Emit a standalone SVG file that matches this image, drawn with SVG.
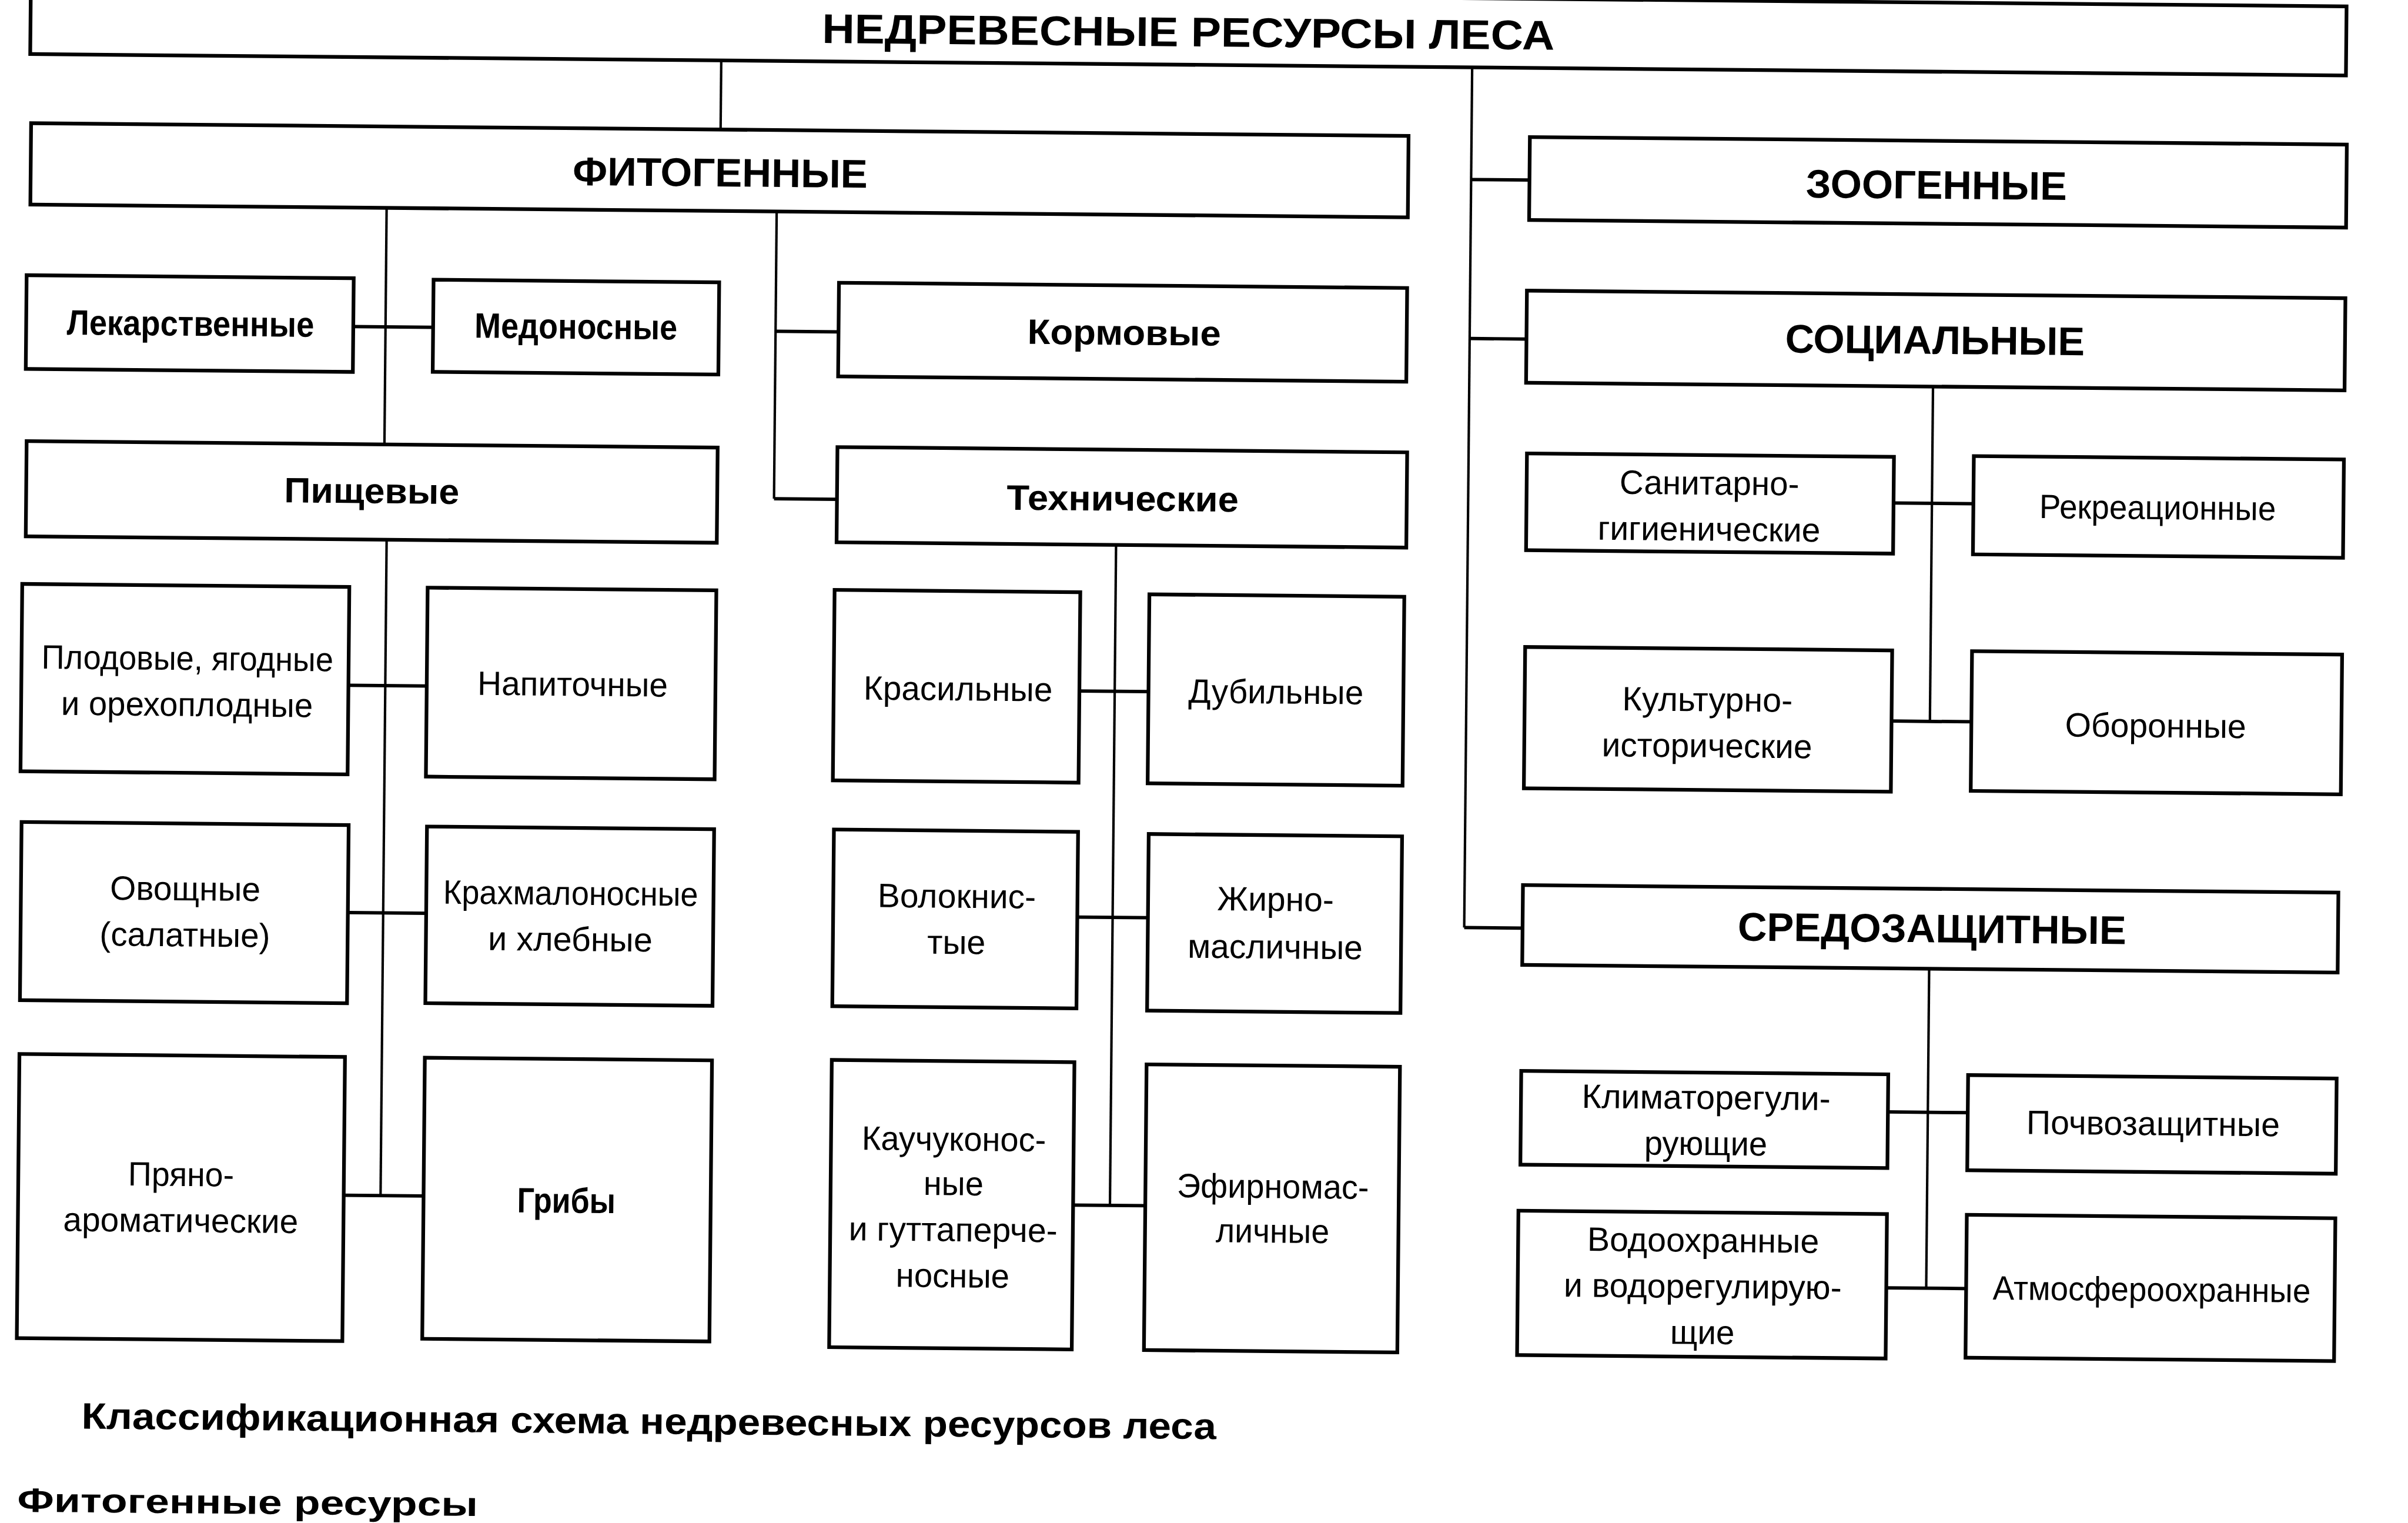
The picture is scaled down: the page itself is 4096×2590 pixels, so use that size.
<svg xmlns="http://www.w3.org/2000/svg" width="4096" height="2590" viewBox="0 0 4096 2590">
<style>
.box{fill:#fff;stroke:#000;stroke-width:2.4}
.c{fill:none;stroke:#000;stroke-width:2.2}
.v{fill:none;stroke:#000;stroke-width:1.6}
text{font-family:"Liberation Sans",Arial,sans-serif;fill:#000;text-anchor:middle}
.r{font-size:22px}
.b{font-size:23px;font-weight:bold}
.h{font-size:26px;font-weight:bold}
.cap{font-size:24px;font-weight:bold;text-anchor:start}
</style>
<rect width="4096" height="2590" fill="#fff"/>
<g transform="scale(2.6122) rotate(0.53)">
<g id="connectors">
<path class="v" d="M470,35V80"/>
<path class="v" d="M959,35V595"/>
<path class="c" d="M959,595H997"/>
<path class="c" d="M959,108H997"/>
<path class="c" d="M959,211.5H996"/>
<path class="v" d="M253,133V287"/>
<path class="c" d="M232,210.5H284"/>
<path class="v" d="M507,133V320"/>
<path class="c" d="M507,320H548"/>
<path class="c" d="M507,211H548"/>
<path class="v" d="M255,349V776"/>
<path class="c" d="M231,444H282"/>
<path class="c" d="M232,592H283"/>
<path class="c" d="M231,776H283"/>
<path class="v" d="M730,348V778"/>
<path class="c" d="M707,443.3H752"/>
<path class="c" d="M707,590.5H753"/>
<path class="c" d="M706,778H753"/>
<path class="v" d="M1261,240V458"/>
<path class="c" d="M1236,316H1288"/>
<path class="c" d="M1236,458H1288"/>
<path class="v" d="M1262,619V827"/>
<path class="c" d="M1236,712.5H1288"/>
<path class="c" d="M1236,827H1288"/>
</g>
<g id="title"><rect class="box" x="20" y="-10" width="1508" height="45"/><text class="h" style="font-size:27px" x="774" y="23" textLength="477" lengthAdjust="spacingAndGlyphs">НЕДРЕВЕСНЫЕ РЕСУРСЫ ЛЕСА</text></g>
<g id="fitogennye"><rect class="box" x="21" y="80" width="897" height="53"/><text class="h" x="470" y="117" textLength="192" lengthAdjust="spacingAndGlyphs">ФИТОГЕННЫЕ</text></g>
<g id="zoogennye"><rect class="box" x="997" y="80" width="532" height="54"/><text class="h" x="1262" y="117.7" textLength="170" lengthAdjust="spacingAndGlyphs">ЗООГЕННЫЕ</text></g>
<g id="socialnye"><rect class="box" x="996" y="180" width="533" height="60"/><text class="h" x="1262" y="218.7" textLength="195" lengthAdjust="spacingAndGlyphs">СОЦИАЛЬНЫЕ</text></g>
<g id="sredozashchitnye"><rect class="box" x="997" y="567" width="531" height="52"/><text class="h" x="1263.6" y="601.8" textLength="253" lengthAdjust="spacingAndGlyphs">СРЕДОЗАЩИТНЫЕ</text></g>
<g id="lekarstvennye"><rect class="box" x="19" y="179" width="213" height="61"/><text class="b" x="126" y="217.4" textLength="161" lengthAdjust="spacingAndGlyphs">Лекарственные</text></g>
<g id="medonosnye"><rect class="box" x="284" y="179.5" width="186" height="60"/><text class="b" x="377" y="217" textLength="132" lengthAdjust="spacingAndGlyphs">Медоносные</text></g>
<g id="kormovye"><rect class="box" x="548" y="179" width="370" height="61"/><text class="b" x="734" y="217.7" textLength="126" lengthAdjust="spacingAndGlyphs">Кормовые</text></g>
<g id="pishchevye"><rect class="box" x="20" y="287" width="450" height="62"/><text class="b" x="245" y="325.3" textLength="114" lengthAdjust="spacingAndGlyphs">Пищевые</text></g>
<g id="tekhnicheskie"><rect class="box" x="548" y="286" width="371" height="62"/><text class="b" x="734" y="325.7" textLength="151" lengthAdjust="spacingAndGlyphs">Технические</text></g>
<g id="plodovye"><rect class="box" x="18" y="380" width="213" height="122"/><text class="r" x="126" y="435" textLength="190" lengthAdjust="spacingAndGlyphs">Плодовые, ягодные</text><text class="r" x="126" y="465" textLength="164" lengthAdjust="spacingAndGlyphs">и орехоплодные</text></g>
<g id="napitochnye"><rect class="box" x="282" y="380" width="188" height="123"/><text class="r" x="377" y="449.5" textLength="124" lengthAdjust="spacingAndGlyphs">Напиточные</text></g>
<g id="ovoshchnye"><rect class="box" x="19" y="535" width="213" height="116"/><text class="r" x="126" y="585" textLength="98" lengthAdjust="spacingAndGlyphs">Овощные</text><text class="r" x="126" y="615" textLength="111" lengthAdjust="spacingAndGlyphs">(салатные)</text></g>
<g id="krakhmalonosnye"><rect class="box" x="283" y="535.5" width="187" height="115"/><text class="r" x="377" y="585.6" textLength="166" lengthAdjust="spacingAndGlyphs">Крахмалоносные</text><text class="r" x="377" y="615.6" textLength="107" lengthAdjust="spacingAndGlyphs">и хлебные</text></g>
<g id="pryano"><rect class="box" x="19" y="686" width="212" height="185"/><text class="r" x="125" y="771" textLength="69" lengthAdjust="spacingAndGlyphs">Пряно-</text><text class="r" x="125" y="801" textLength="153" lengthAdjust="spacingAndGlyphs">ароматические</text></g>
<g id="griby"><rect class="box" x="283" y="686" width="187" height="183"/><text class="b" x="376" y="786.1" textLength="64" lengthAdjust="spacingAndGlyphs">Грибы</text></g>
<g id="krasilnye"><rect class="box" x="547" y="379" width="160" height="124"/><text class="r" x="628" y="450.2" textLength="123" lengthAdjust="spacingAndGlyphs">Красильные</text></g>
<g id="dubilnye"><rect class="box" x="752" y="380" width="166" height="123"/><text class="r" x="835" y="450.3" textLength="114" lengthAdjust="spacingAndGlyphs">Дубильные</text></g>
<g id="voloknistye"><rect class="box" x="548" y="535" width="159" height="115"/><text class="r" x="628.4" y="585.2" textLength="103" lengthAdjust="spacingAndGlyphs">Волокнис-</text><text class="r" x="628.4" y="615.2" textLength="38" lengthAdjust="spacingAndGlyphs">тые</text></g>
<g id="zhirnomaslichnye"><rect class="box" x="753" y="536" width="165" height="115"/><text class="r" x="836" y="585.3" textLength="76" lengthAdjust="spacingAndGlyphs">Жирно-</text><text class="r" x="836" y="616.3" textLength="114" lengthAdjust="spacingAndGlyphs">масличные</text></g>
<g id="kauchukonosnye"><rect class="box" x="548" y="685" width="158" height="187"/><text class="r" x="628" y="743.3" textLength="120" lengthAdjust="spacingAndGlyphs">Каучуконос-</text><text class="r" x="628" y="772.3" textLength="39" lengthAdjust="spacingAndGlyphs">ные</text><text class="r" x="628" y="802.3" textLength="136" lengthAdjust="spacingAndGlyphs">и гуттаперче-</text><text class="r" x="628" y="832.3" textLength="74" lengthAdjust="spacingAndGlyphs">носные</text></g>
<g id="efirnomaslichnye"><rect class="box" x="753" y="686" width="165" height="186"/><text class="r" x="836" y="772.3" textLength="125" lengthAdjust="spacingAndGlyphs">Эфирномас-</text><text class="r" x="836" y="801.3" textLength="74" lengthAdjust="spacingAndGlyphs">личные</text></g>
<g id="sanitarno"><rect class="box" x="997" y="286" width="239" height="63"/><text class="r" x="1116" y="311.7" textLength="117" lengthAdjust="spacingAndGlyphs">Санитарно-</text><text class="r" x="1116" y="341.7" textLength="145" lengthAdjust="spacingAndGlyphs">гигиенические</text></g>
<g id="rekreacionnye"><rect class="box" x="1288" y="285" width="241" height="64"/><text class="r" x="1408" y="325" textLength="154" lengthAdjust="spacingAndGlyphs">Рекреационные</text></g>
<g id="kulturno"><rect class="box" x="997" y="412" width="239" height="92"/><text class="r" x="1116" y="452.7" textLength="111" lengthAdjust="spacingAndGlyphs">Культурно-</text><text class="r" x="1116" y="482.7" textLength="137" lengthAdjust="spacingAndGlyphs">исторические</text></g>
<g id="oboronnye"><rect class="box" x="1288" y="412" width="241" height="91"/><text class="r" x="1408" y="467" textLength="118" lengthAdjust="spacingAndGlyphs">Оборонные</text></g>
<g id="klimatoreguliruyushchie"><rect class="box" x="997" y="688" width="239" height="61"/><text class="r" x="1117.6" y="711.7" textLength="162" lengthAdjust="spacingAndGlyphs">Климаторегули-</text><text class="r" x="1117.6" y="741.7" textLength="80" lengthAdjust="spacingAndGlyphs">рующие</text></g>
<g id="pochvozashchitnye"><rect class="box" x="1288" y="688" width="240" height="62"/><text class="r" x="1408.8" y="726" textLength="165" lengthAdjust="spacingAndGlyphs">Почвозащитные</text></g>
<g id="vodookhrannye"><rect class="box" x="996" y="779" width="240" height="94"/><text class="r" x="1116.5" y="804.7" textLength="151" lengthAdjust="spacingAndGlyphs">Водоохранные</text><text class="r" x="1116.5" y="834.7" textLength="181" lengthAdjust="spacingAndGlyphs">и водорегулирую-</text><text class="r" x="1116.5" y="864.7" textLength="42" lengthAdjust="spacingAndGlyphs">щие</text></g>
<g id="atmosferookhrannye"><rect class="box" x="1288" y="779" width="240" height="93"/><text class="r" x="1408.8" y="834" textLength="207" lengthAdjust="spacingAndGlyphs">Атмосфероохранные</text></g>
<g id="caption"><text class="cap" x="61.6" y="929.5" textLength="739" lengthAdjust="spacingAndGlyphs">Классификационная схема недревесных ресурсов леса</text>
<text class="cap" style="font-size:22px" x="20.3" y="984" textLength="300" lengthAdjust="spacingAndGlyphs">Фитогенные ресурсы</text></g>
</g>
</svg>
